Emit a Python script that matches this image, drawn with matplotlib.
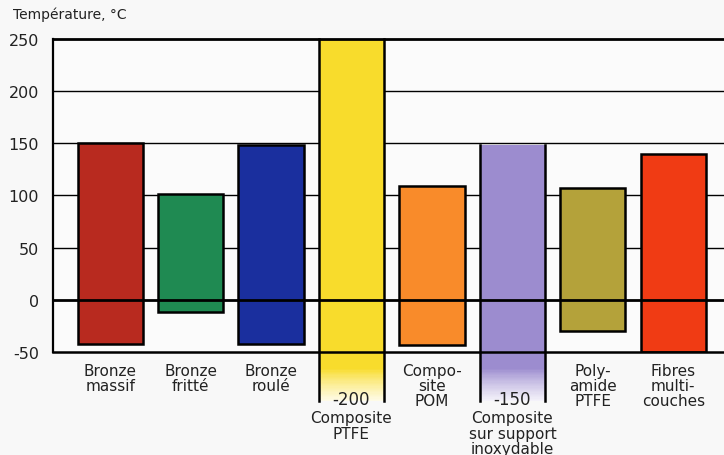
import matplotlib.pyplot as plt
import matplotlib.colors as mcolors
import numpy as np

plt.rcParams['font.family'] = ['DejaVu Sans']
plt.rcParams['axes.unicode_minus'] = False

# data
labels = ["Bronze\nmassif", "Bronze\nfritté", "Bronze\nroulé", "Composite\nPTFE",
          "Compo-\nsite\nPOM", "Composite\nsur support\ninoxydable",
          "Poly-\namide\nPTFE", "Fibres\nmulti-\ncouches"]
t_min = [-42, -12, -42, -200, -43, -150, -30, -50]
t_max = [150, 101, 148, 280, 109, 148, 107, 140]
colors = ["#b82a1f", "#1f8a52", "#1a2f9e", "#f8dc2c", "#f98b2a", "#9c8ccf", "#b4a23a", "#f03b14"]

Y_LO, Y_HI = -50, 250
CUT = -97       # where the off-scale bars are drawn to
W = 0.81

fig = plt.figure(figsize=(7.24, 4.56), dpi=100, facecolor="#f8f8f8")
ax = fig.add_axes([0.0732, 0.2259, 0.9268, 0.6864])
ax.set_facecolor("#fbfbfb")

for yv in [50, 100, 150, 200]:
    ax.axhline(yv, color="black", lw=1.0, zorder=1)

x = np.arange(len(labels))
for i in x:
    lo, hi = t_min[i], min(t_max[i], Y_HI)
    if lo >= Y_LO:
        ax.bar(i, hi - lo, bottom=lo, width=W, color=colors[i], edgecolor="black",
               lw=1.8, zorder=2)
        ax.annotate(labels[i], (i, Y_LO), xytext=(0, -8), textcoords="offset points",
                    ha="center", va="top", fontsize=11, linespacing=0.98,
                    color="#222222", annotation_clip=False)
    else:
        # solid part inside the axes
        ax.bar(i, hi - Y_LO, bottom=Y_LO, width=W, color=colors[i], lw=0, zorder=2)
        # part below the axes, fading to white
        rgb = np.array(mcolors.to_rgb(colors[i]))
        n = 40
        edges = np.linspace(Y_LO, CUT, n + 1)
        for k in range(n):
            t = (k + 0.5) / n
            m = np.clip((t - 0.35) / 0.65, 0, 1) ** 0.8 * 0.9
            c = rgb * (1 - m) + np.ones(3) * m
            ax.bar(i, edges[k + 1] - edges[k], bottom=edges[k], width=W, color=c,
                   lw=0, clip_on=False, zorder=2)
        ax.plot([i - W / 2, i - W / 2], [CUT, hi], color="black", lw=1.8, clip_on=False, zorder=3)
        ax.plot([i + W / 2, i + W / 2], [CUT, hi], color="black", lw=1.8, clip_on=False, zorder=3)
        ax.text(i, CUT - 3, f"{lo}", ha="center", va="baseline", fontsize=12,
                color="#222222", zorder=4)
        ax.annotate(labels[i], (i, CUT), xytext=(0, -6.5), textcoords="offset points",
                    ha="center", va="top", fontsize=11, linespacing=1.05,
                    color="#222222", annotation_clip=False)

ax.axhline(0, color="black", lw=2.0, zorder=3)

ax.set_xticks([])
ax.set_yticks([-50, 0, 50, 100, 150, 200, 250])
ax.tick_params(axis="y", length=0, labelsize=11.5, pad=10, labelcolor="#222222")
ax.spines["right"].set_visible(False)
ax.spines["top"].set_linewidth(2.0)
ax.spines["top"].set_zorder(4)
ax.spines["left"].set_linewidth(1.6)
ax.spines["bottom"].set_linewidth(1.8)
ax.set_xlim(-0.71, 7.63)
ax.set_ylim(Y_LO, Y_HI)

fig.text(0.018, 0.968, "Température, °C", fontsize=10, va="center", ha="left",
         color="#222222")

fig.savefig("out.png", dpi=100, facecolor=fig.get_facecolor())
